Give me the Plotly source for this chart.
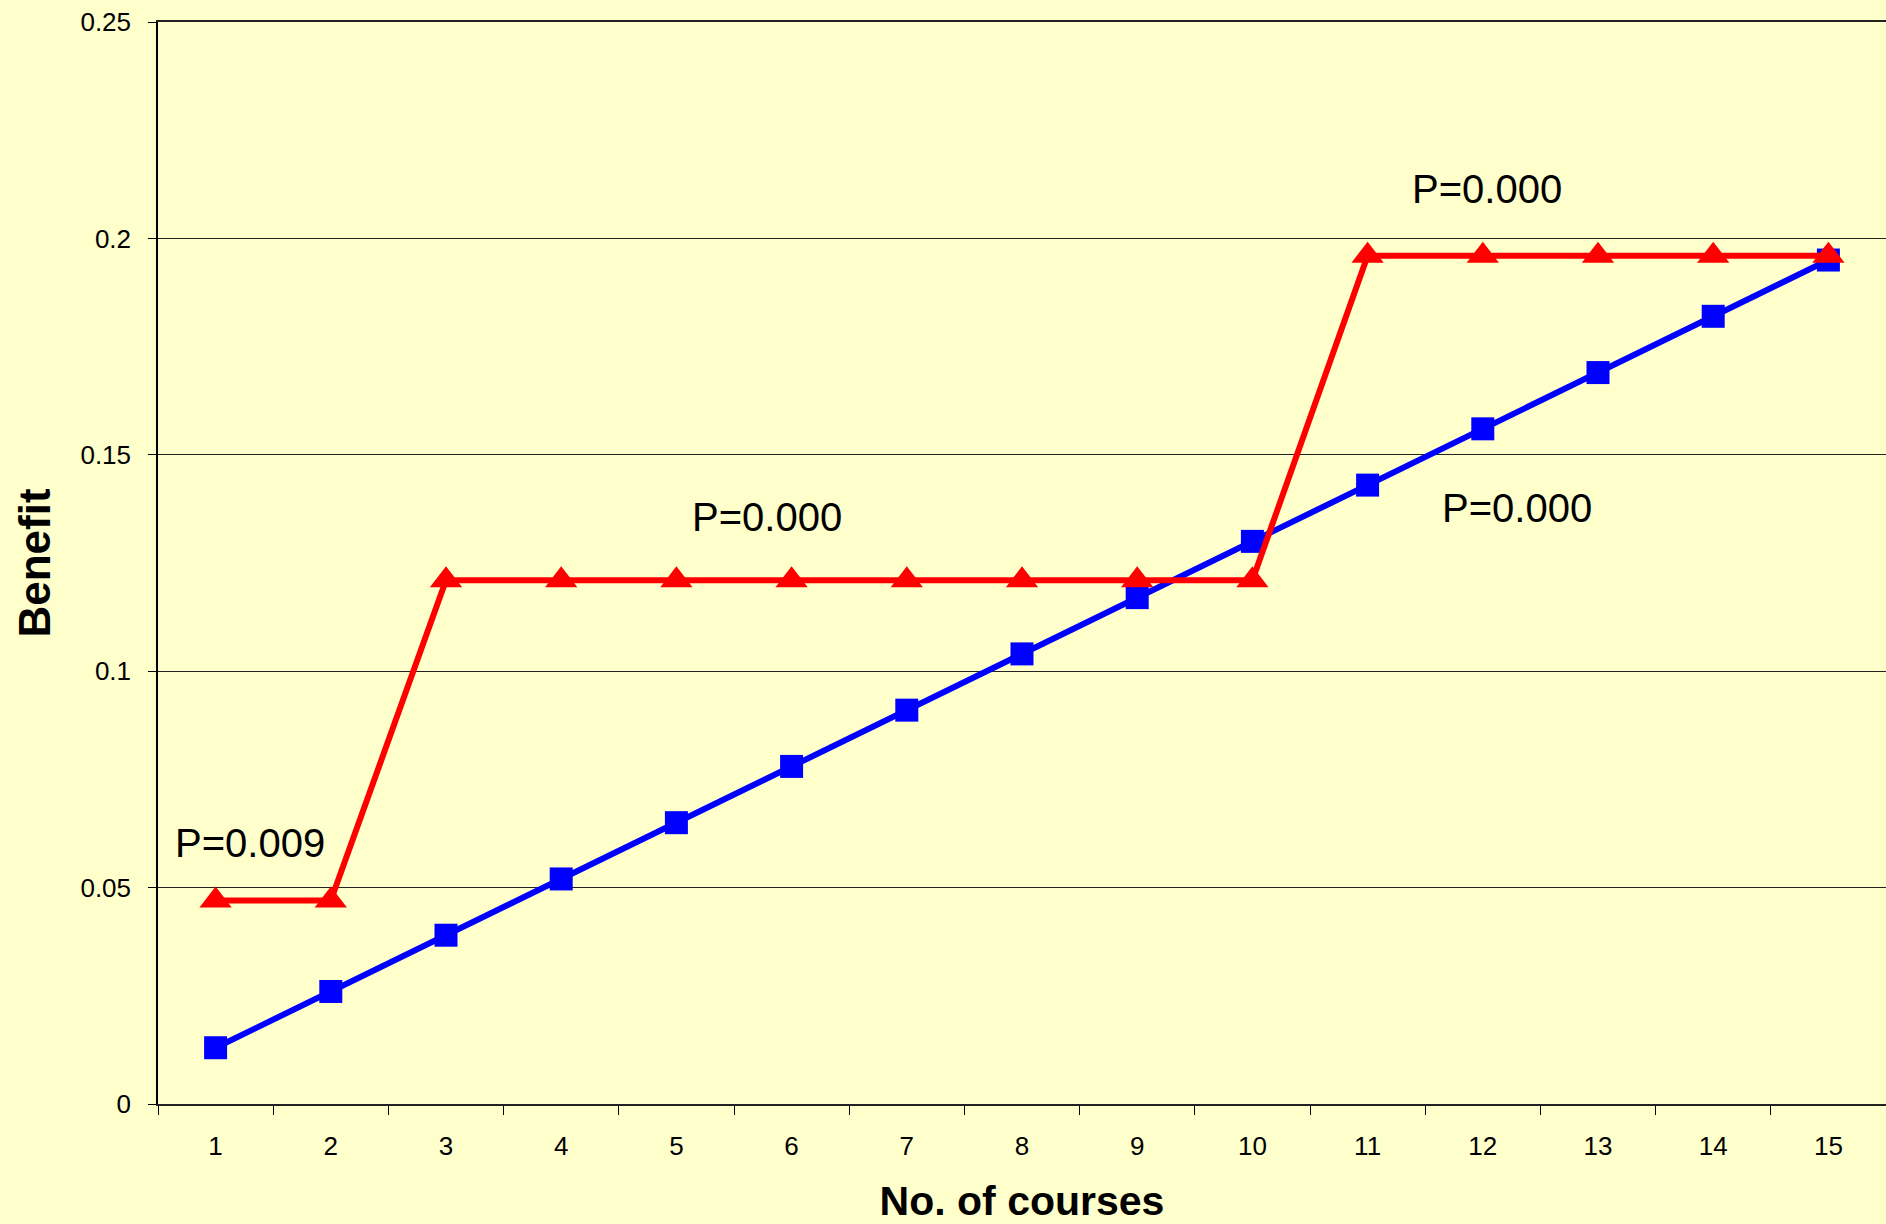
import plotly.graph_objects as go

# Number of courses (categories on the x axis)
courses = [str(i) for i in range(1, 16)]

# Benefit per number of courses
benefit_linear = [0.013, 0.026, 0.039, 0.052, 0.065, 0.078, 0.091, 0.104,
                  0.117, 0.130, 0.143, 0.156, 0.169, 0.182, 0.195]
benefit_step = [0.047, 0.047, 0.121, 0.121, 0.121, 0.121, 0.121, 0.121,
                0.121, 0.121, 0.196, 0.196, 0.196, 0.196, 0.196]

# P-value labels and where they sit (category index, benefit)
p_labels = ["P=0.009", "P=0.000", "P=0.000", "P=0.000"]
p_x = [0.3, 4.79, 11.04, 11.30]
p_y = [0.0602, 0.1356, 0.2113, 0.1377]

y_ticks = [0, 0.05, 0.1, 0.15, 0.2, 0.25]

BG = "#FFFFCC"
FONT = "Liberation Sans, Arial, sans-serif"

fig = go.Figure()
fig.add_trace(go.Scatter(
    x=courses, y=benefit_linear, mode="lines+markers",
    line=dict(color="#0000FF", width=6),
    marker=dict(symbol="square", size=23, color="#0000FF"),
    showlegend=False,
))
fig.add_trace(go.Scatter(
    x=courses, y=benefit_step, mode="lines+markers",
    line=dict(color="#FF0000", width=6),
    marker=dict(symbol="triangle-up", size=28, color="#FF0000"),
    showlegend=False,
))

for txt, ax, ay in zip(p_labels, p_x, p_y):
    fig.add_annotation(x=ax, y=ay, xref="x", yref="y", text=txt,
                       showarrow=False, xanchor="center", yanchor="middle",
                       font=dict(family=FONT, size=40, color="black"))

fig.update_layout(
    width=1886, height=1224,
    margin=dict(l=158, r=0, t=22, b=120),
    paper_bgcolor=BG, plot_bgcolor=BG,
    font=dict(family=FONT, color="black"),
    xaxis=dict(
        type="category", tickson="boundaries",
        range=[-0.5, 14.5],
        showgrid=False, zeroline=False,
        showline=True, linecolor="#222222", linewidth=1.5, mirror=True,
        ticks="outside", ticklen=9, tickcolor="black", tickwidth=1,
        tickfont=dict(size=26, family=FONT),
        ticklabelstandoff=18,
        title=dict(text="<b>No. of courses</b>", standoff=28,
                   font=dict(size=41, family=FONT)),
    ),
    yaxis=dict(
        range=[0, 0.25], tickvals=y_ticks,
        ticktext=["0", "0.05", "0.1", "0.15", "0.2", "0.25"],
        showgrid=True, gridcolor="#222222", gridwidth=1,
        zeroline=False,
        showline=True, linecolor="black", linewidth=1.5,
        ticks="outside", ticklen=8, tickcolor="black", tickwidth=1,
        tickfont=dict(size=26, family=FONT),
        ticklabelstandoff=12,
        title=dict(text="<b>Benefit</b>", standoff=16,
                   font=dict(size=44, family=FONT)),
    ),
)

fig.write_html("out.html")
